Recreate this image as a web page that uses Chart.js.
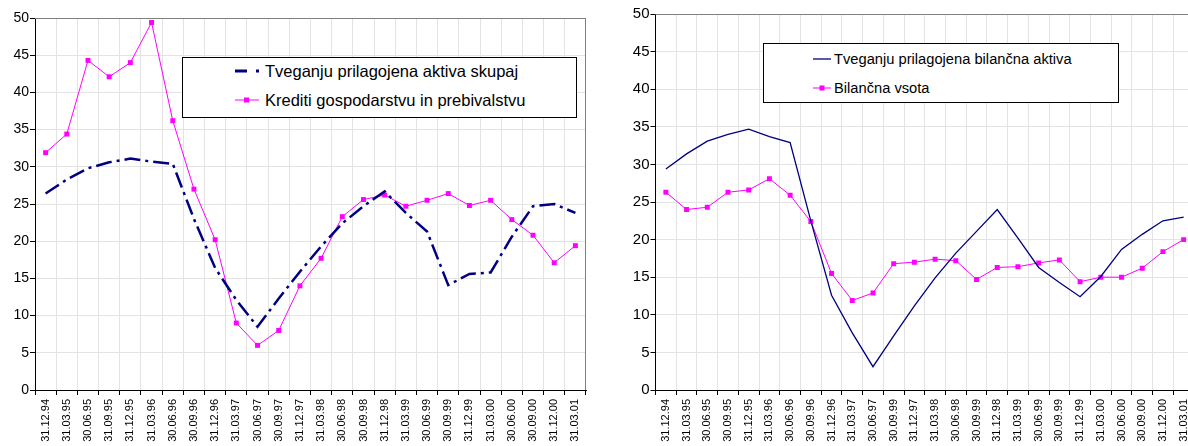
<!DOCTYPE html>
<html>
<head>
<meta charset="utf-8">
<script src="https://cdn.jsdelivr.net/npm/chart.js@4.4.1/dist/chart.umd.min.js"></script>
<style>
body { margin: 0; width: 1188px; height: 446px; overflow: hidden; background: #fff; position: relative;
       font-family: "Liberation Sans", Arial, sans-serif; }
canvas { position: absolute; top: 0; }
.box { position: absolute; border: 1px solid #000; background: #fff; box-sizing: border-box; }
.item { position: absolute; white-space: nowrap; line-height: 20px; height: 20px; color: #000; }
.item svg { position: absolute; top: 0; }
</style>
</head>
<body>
<canvas id="left" width="594" height="446" style="left:0"></canvas>
<canvas id="right" width="610" height="446" style="left:594px"></canvas>

<div class="box" style="left:182px; top:57px; width:395px; height:61px"></div>
<div class="item" style="left:235px; top:61px; font-size:16.5px">
  <svg width="30" height="20"><line x1="0" y1="10" x2="24" y2="10" stroke="#000080" stroke-width="3" stroke-dasharray="12 9 3 100"/></svg>
  <span style="position:absolute; left:30px">Tveganju prilagojena aktiva skupaj</span>
</div>
<div class="item" style="left:235px; top:90px; font-size:16.5px">
  <svg width="30" height="20"><line x1="0" y1="10" x2="24" y2="10" stroke="#ff00ff" stroke-width="1"/><rect x="9" y="7.5" width="5" height="5" fill="#ff00ff"/></svg>
  <span style="position:absolute; left:30px">Krediti gospodarstvu in prebivalstvu</span>
</div>

<div class="box" style="left:763px; top:43px; width:356px; height:60px"></div>
<div class="item" style="left:813px; top:49px; font-size:14.7px">
  <svg width="20" height="20"><line x1="0" y1="10" x2="18" y2="10" stroke="#000080" stroke-width="1.3"/></svg>
  <span style="position:absolute; left:21px">Tveganju prilagojena bilančna aktiva</span>
</div>
<div class="item" style="left:813px; top:78px; font-size:14.7px">
  <svg width="20" height="20"><line x1="0" y1="10" x2="18" y2="10" stroke="#ff00ff" stroke-width="1"/><rect x="6.5" y="7.5" width="5" height="5" fill="#ff00ff"/></svg>
  <span style="position:absolute; left:21px">Bilančna vsota</span>
</div>

<script>
// left chart
const datesLeft = ["31.12.94", "31.03.95", "30.06.95", "31.09.95", "31.12.95", "31.03.96", "30.06.96",
  "30.09.96", "31.12.96", "31.03.97", "30.06.97", "30.09.97", "31.12.97", "31.03.98", "30.06.98",
  "30.09.98", "31.12.98", "31.03.99", "30.06.99", "30.09.99", "31.12.99", "31.03.00", "30.06.00",
  "30.09.00", "31.12.00", "31.03.01"];
const aktivaSkupaj = [26.4, 28.3, 29.8, 30.6, 31.1, 30.7, 30.4, 23.0, 16.4, 12.1, 8.5, 12.3, 15.9,
  19.3, 22.4, 24.7, 26.7, 23.8, 21.3, 14.1, 15.6, 15.8, 20.6, 24.7, 25.0, 23.8];
const krediti = [31.9, 34.4, 44.3, 42.1, 44.0, 49.4, 36.2, 27.0, 20.2, 9.0, 6.0, 8.0, 14.0,
  17.7, 23.3, 25.6, 26.2, 24.7, 25.5, 26.4, 24.8, 25.5, 22.9, 20.8, 17.1, 19.4];

// right chart (labels as printed)
const datesRight = ["31.12.94", "31.03.95", "30.06.95", "30.09.95", "31.12.95", "31.03.96", "30.06.96",
  "30.09.96", "31.12.96", "31.03.97", "30.06.97", "30.09.99", "31.12.97", "31.03.98", "30.06.98",
  "30.09.99", "31.12.98", "31.03.99", "30.06.99", "30.09.99", "31.12.99", "31.03.00", "30.06.00",
  "30.09.00", "31.12.00", "31.03.01"];
const bilancnaAktiva = [29.4, 31.4, 33.1, 34.0, 34.7, 33.7, 32.9, 22.5, 12.6, 7.6, 3.1, 7.2, 11.2,
  14.9, 18.2, 21.1, 24.0, 20.2, 16.3, 14.3, 12.4, 15.1, 18.7, 20.7, 22.5, 23.0];
const bilancnaVsota = [26.3, 24.0, 24.3, 26.3, 26.6, 28.1, 25.9, 22.4, 15.5, 11.9, 12.9, 16.8, 17.0,
  17.4, 17.2, 14.7, 16.3, 16.4, 16.9, 17.3, 14.4, 15.0, 15.0, 16.2, 18.4, 20.0];

const NAVY = '#000080';
const PINK = '#ff00ff';
const GRID = '#e3e3e3';

const frame = {
  id: 'frame',
  beforeDatasetsDraw(chart) {
    const a = chart.chartArea, ctx = chart.ctx;
    ctx.save();
    ctx.strokeStyle = '#808080';
    ctx.lineWidth = 1;
    ctx.beginPath();
    ctx.moveTo(a.left, Math.round(a.top) + 0.5);
    ctx.lineTo(a.right, Math.round(a.top) + 0.5);
    ctx.moveTo(Math.round(a.right) - 0.5, a.top);
    ctx.lineTo(Math.round(a.right) - 0.5, a.bottom);
    ctx.stroke();
    ctx.restore();
  }
};

function makeOptions(pad, yWidth, yFont) {
  return {
    responsive: false,
    animation: false,
    layout: { padding: pad },
    plugins: { legend: { display: false }, tooltip: { enabled: false } },
    scales: {
      x: {
        type: 'category',
        offset: true,
        grid: { offset: true, color: GRID, tickColor: '#000', tickLength: 5 },
        border: { color: '#000' },
        ticks: { autoSkip: false, maxRotation: 90, minRotation: 90, padding: 4, color: '#000',
                 font: { family: 'Liberation Sans', size: 11 } },
        afterFit: s => { s.height = 56; }
      },
      y: {
        min: 0, max: 50,
        grid: { color: GRID, tickColor: '#000', tickLength: 5 },
        border: { color: '#000' },
        ticks: { stepSize: 5, padding: 1, color: '#000', font: { family: 'Liberation Sans', size: yFont } },
        afterFit: s => { s.width = yWidth; }
      }
    }
  };
}

new Chart(document.getElementById('left'), {
  type: 'line',
  data: {
    labels: datesLeft,
    datasets: [
      { label: 'Tveganju prilagojena aktiva skupaj', data: aktivaSkupaj, borderColor: NAVY,
        borderWidth: 2.5, borderDash: [16, 5, 3, 5], pointRadius: 0, tension: 0 },
      { label: 'Krediti gospodarstvu in prebivalstvu', data: krediti, borderColor: PINK,
        backgroundColor: PINK, borderWidth: 1, pointStyle: 'rect', pointRadius: 3.5,
        pointBorderWidth: 0, tension: 0 }
    ]
  },
  options: makeOptions({ top: 18, right: 8, left: 0, bottom: 0 }, 35, 14),
  plugins: [frame]
});

new Chart(document.getElementById('right'), {
  type: 'line',
  data: {
    labels: datesRight,
    datasets: [
      { label: 'Tveganju prilagojena bilančna aktiva', data: bilancnaAktiva, borderColor: NAVY,
        borderWidth: 1.3, pointRadius: 0, tension: 0 },
      { label: 'Bilančna vsota', data: bilancnaVsota, borderColor: PINK, backgroundColor: PINK,
        borderWidth: 1, pointStyle: 'rect', pointRadius: 3.5, pointBorderWidth: 0, tension: 0 }
    ]
  },
  options: makeOptions({ top: 14, right: 10, left: 0, bottom: 0 }, 61.5, 15),
  plugins: [frame]
});
</script>
</body>
</html>
